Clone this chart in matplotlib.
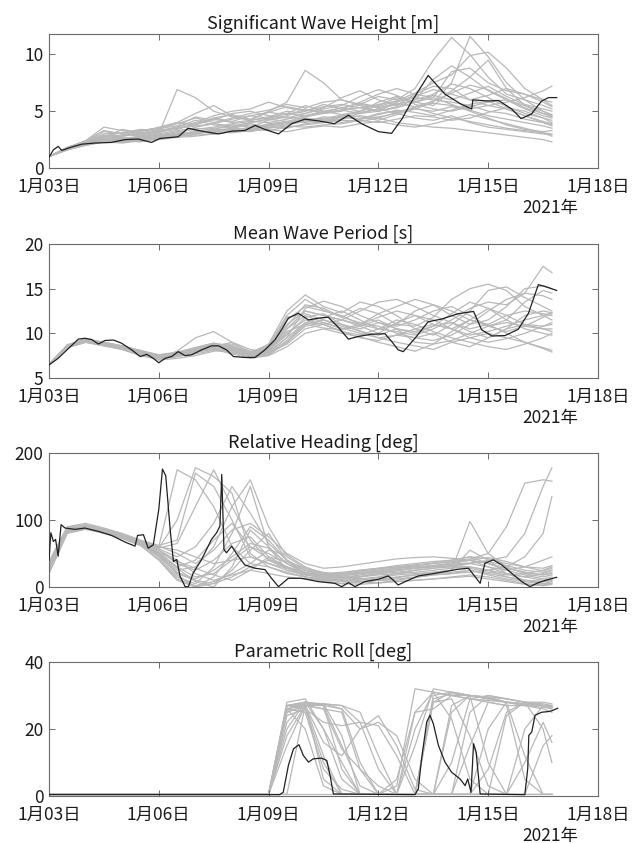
import matplotlib
matplotlib.use('Agg')
import matplotlib.pyplot as plt

plt.rcParams['font.family'] = ['Noto Sans CJK JP', 'DejaVu Sans']

# ---------------- data ----------------
titles = ['Significant Wave Height [m]', 'Mean Wave Period [s]',
          'Relative Heading [deg]', 'Parametric Roll [deg]']
xtick_days = [0, 3, 6, 9, 12, 15]
xtick_labels = ['1月03日', '1月06日', '1月09日', '1月12日', '1月15日', '1月18日']
year_label = '2021年'
ylims = [(0, 11.8), (5, 20), (0, 200), (0, 40)]
yticks = [[0, 5, 10], [5, 10, 15, 20], [0, 100, 200], [0, 20, 40]]

# ensemble time grid (days since Jan 3)
t_ens = [0.0, 0.5, 1.0, 1.5, 2.0, 2.5, 3.0, 3.5, 4.0, 4.5, 5.0, 5.5, 6.0, 6.5,
         7.0, 7.5, 8.0, 8.5, 9.0, 9.5, 10.0, 10.5, 11.0, 11.5, 12.0, 12.5,
         13.0, 13.5, 13.74]

hs_members = [
    [1.0,1.8,2.3,3.2,3.0,2.8,3.1,3.6,4.2,3.8,3.6,4.0,4.3,4.6,5.2,4.8,5.0,5.6,6.3,6.0,7.0,9.5,11.5,10.0,8.0,6.5,6.0,5.5,5.2],
    [1.0,1.7,2.2,2.8,2.6,2.7,3.0,6.9,6.2,5.0,4.5,4.2,4.4,4.8,4.6,5.0,5.3,5.0,5.5,6.2,5.8,5.5,6.8,8.0,9.5,7.0,5.5,4.8,4.5],
    [1.0,1.8,2.4,3.6,3.3,3.0,3.2,3.5,3.8,4.3,4.0,4.2,5.0,5.8,8.6,7.5,6.0,5.5,5.0,5.8,6.2,6.0,5.8,5.5,5.0,4.8,4.3,4.0,3.8],
    [1.0,1.6,2.1,2.4,2.3,2.5,2.7,2.9,3.1,3.3,3.5,3.4,3.8,4.0,4.2,4.0,4.5,4.3,4.8,5.0,5.2,5.8,7.5,11.6,9.8,7.5,6.0,5.0,4.6],
    [1.0,1.7,2.0,2.3,2.4,2.3,2.6,2.8,2.9,3.0,3.2,3.4,3.3,3.6,3.8,4.0,4.2,4.1,4.4,4.0,3.8,3.6,3.5,3.3,3.1,2.9,2.7,2.5,2.3],
    [1.0,1.8,2.3,2.9,2.8,3.2,3.6,4.0,4.8,5.5,4.6,4.2,4.5,5.0,4.8,5.3,6.2,6.8,6.0,5.5,6.5,7.2,7.0,6.0,5.5,5.8,6.2,6.8,7.2],
    [1.0,1.7,2.2,2.6,2.5,2.8,2.9,3.2,3.4,3.6,3.9,4.1,4.0,4.3,4.6,4.9,5.1,5.3,5.6,5.9,6.6,7.5,8.2,9.9,10.2,8.8,7.0,6.0,5.5],
    [1.0,1.8,2.1,2.5,2.6,2.4,2.7,3.0,3.2,3.1,3.5,3.8,3.7,3.9,4.2,4.4,4.0,4.3,4.5,4.8,4.4,4.2,4.6,4.0,3.6,3.4,3.2,3.0,2.9],
    [1.0,1.7,2.3,2.7,2.9,3.3,3.5,3.7,4.5,4.2,4.8,5.0,4.6,4.4,4.8,5.2,5.5,6.3,6.9,6.4,5.6,5.2,5.0,5.4,5.8,6.0,5.5,5.0,4.7],
    [1.0,1.8,2.2,2.5,2.7,2.6,2.8,3.1,3.0,3.3,3.4,3.5,3.9,4.1,4.0,4.3,4.7,4.5,4.2,4.7,5.2,5.0,5.4,5.1,4.6,4.3,4.0,3.7,3.5],
    [1.0,1.6,2.0,2.3,2.2,2.4,2.5,2.7,2.8,3.0,3.3,3.2,3.5,3.7,3.6,3.8,3.9,4.2,4.0,4.3,4.6,4.5,4.2,4.4,4.9,5.3,5.0,4.4,4.0],
    [1.0,1.8,2.3,3.0,3.1,3.4,3.3,3.6,4.0,4.6,5.0,5.2,5.8,5.3,5.0,5.6,5.2,5.8,6.5,7.0,6.5,6.2,8.5,8.8,7.5,6.8,6.5,6.0,5.8],
    [1.0,1.7,2.2,2.6,2.4,2.6,3.0,3.3,3.5,3.4,3.8,3.6,4.2,4.5,4.3,4.1,4.6,4.9,5.2,4.8,5.4,5.7,5.5,5.2,5.5,5.2,4.6,4.0,3.7],
    [1.0,1.7,2.1,2.4,2.5,2.5,2.6,2.8,3.3,3.0,3.2,3.4,3.6,3.5,3.9,4.1,4.3,4.6,4.4,4.9,5.3,4.8,4.4,4.1,3.8,3.5,3.3,3.1,3.0],
    [1.0,1.8,2.4,3.3,3.0,2.9,3.2,3.4,3.9,4.4,4.1,4.6,4.4,4.8,5.5,5.0,4.7,5.0,5.8,6.3,5.8,6.4,6.0,6.6,7.2,6.3,5.6,5.2,5.0],
    [1.0,1.7,2.2,2.5,2.6,2.8,2.9,3.0,3.6,3.9,3.7,4.0,4.3,4.1,4.5,4.8,5.1,4.8,5.2,5.6,6.0,6.5,7.4,7.0,6.2,5.4,4.8,4.4,4.2],
    [1.0,1.7,2.2,2.7,2.8,3.0,3.3,3.5,3.7,3.9,4.3,4.6,4.9,4.7,5.0,5.4,5.6,5.3,5.0,5.4,6.0,7.8,9.0,8.0,6.8,6.0,5.2,4.6,4.4],
    [1.0,1.8,2.1,2.4,2.3,2.5,2.7,2.9,3.0,3.2,3.1,3.3,3.4,3.2,3.5,3.7,3.6,3.9,4.1,3.8,3.6,3.9,4.3,4.7,4.3,3.9,3.5,3.1,2.8],
    [1.0,1.7,2.3,2.8,3.1,3.3,3.5,4.0,3.8,4.4,4.7,4.3,4.9,5.4,5.1,4.9,5.3,5.7,5.4,5.9,6.3,6.9,6.5,6.0,6.4,7.0,6.5,5.8,5.4],
    [1.0,1.6,2.0,2.4,2.3,2.4,2.6,2.8,3.0,3.4,3.3,3.6,3.8,4.0,4.4,4.2,4.5,4.3,4.7,5.1,4.9,4.6,5.1,5.6,5.9,5.2,4.6,4.1,3.9],
    [1.0,1.8,2.2,2.7,3.4,3.1,3.4,3.9,4.4,4.0,4.4,4.8,5.1,5.6,5.3,5.8,6.0,5.6,5.3,5.7,5.4,5.9,6.6,7.3,6.9,6.1,5.3,4.8,4.6],
    [1.0,1.7,2.1,2.3,2.4,2.6,2.8,2.9,3.2,3.5,3.6,3.9,3.6,3.8,4.1,4.5,4.4,4.8,5.0,5.3,5.8,6.2,5.6,5.0,4.4,3.8,3.4,3.2,3.3],
]

tm_members = [
    [6.5,8.6,9.3,9.0,8.5,8.0,7.5,7.8,8.0,8.3,7.8,7.6,8.5,11.5,13.0,12.5,12.0,11.0,10.5,10.2,9.8,10.5,11.5,12.8,13.5,13.2,14.5,17.5,16.8],
    [6.5,8.5,9.1,8.8,8.4,7.9,7.2,8.0,9.5,10.2,9.0,7.8,8.8,12.5,14.3,13.0,12.3,13.5,13.0,12.0,10.5,9.8,11.0,12.5,14.8,15.2,14.0,13.0,12.5],
    [6.5,8.4,9.0,8.7,8.2,7.6,7.0,7.2,7.5,8.0,8.2,7.4,7.6,9.0,11.0,11.5,10.8,10.3,9.5,9.0,8.6,8.2,9.0,9.5,10.0,9.5,9.0,8.4,8.1],
    [6.5,8.7,9.4,9.0,8.6,8.1,7.6,7.9,8.4,8.9,8.4,7.9,8.2,10.5,12.0,11.2,10.5,11.0,12.2,13.0,13.8,13.2,12.0,11.0,11.5,13.0,15.0,15.3,15.0],
    [6.5,8.5,9.2,8.9,8.5,7.8,7.4,7.5,7.8,8.5,9.0,8.2,7.8,8.8,10.5,11.0,11.5,10.8,10.0,11.2,12.0,11.5,10.5,9.8,10.2,10.8,11.5,12.0,12.3],
    [6.5,8.6,9.2,8.8,8.3,7.7,7.3,7.6,8.2,8.7,8.5,7.5,7.9,9.5,12.8,13.6,13.0,12.0,11.2,10.5,10.0,10.8,12.2,13.5,12.8,11.5,10.5,10.0,9.8],
    [6.5,8.5,9.1,8.9,8.4,7.9,7.4,7.7,8.1,8.4,8.0,7.3,8.0,10.0,11.5,11.0,10.2,9.8,10.5,11.5,11.0,10.2,9.5,9.0,8.5,8.2,8.8,9.5,10.0],
    [6.5,8.7,9.3,9.0,8.6,8.0,7.6,7.8,8.3,8.7,8.8,8.0,8.3,11.0,12.5,12.0,11.5,12.5,13.5,13.8,13.0,12.0,11.2,10.5,11.0,12.0,12.5,12.2,12.0],
    [6.5,8.4,9.0,8.6,8.2,7.5,7.1,7.4,7.9,8.2,7.7,7.2,7.5,8.5,10.0,10.5,10.0,9.6,9.0,8.5,8.0,8.8,10.2,11.5,11.0,10.0,9.0,8.3,7.9],
    [6.5,8.6,9.2,8.9,8.4,7.8,7.5,7.7,8.0,8.6,8.3,7.7,8.1,9.8,11.8,12.2,11.0,10.5,11.2,10.8,11.5,12.5,13.0,12.0,10.8,10.2,10.8,11.8,12.2],
    [6.5,8.5,9.1,8.8,8.3,7.8,7.3,7.5,8.1,8.5,8.6,7.6,8.0,10.8,13.2,12.8,11.8,11.2,10.8,10.0,9.5,9.2,9.8,11.0,12.5,13.8,14.5,14.2,13.8],
    [6.5,8.7,9.3,8.9,8.5,7.9,7.5,7.8,8.2,8.8,8.5,7.8,8.4,11.8,12.2,11.5,11.0,10.2,9.8,10.5,10.2,10.8,11.2,10.2,9.5,10.5,11.0,10.5,10.2],
    [6.5,8.5,9.2,8.8,8.4,7.7,7.2,7.6,8.0,8.4,8.2,7.4,7.7,9.2,11.2,11.8,12.5,11.5,10.5,11.0,12.5,13.2,12.5,11.5,10.8,11.5,13.5,14.8,14.5],
    [6.5,8.6,9.1,8.7,8.3,7.8,7.4,7.7,8.2,8.6,8.3,7.6,8.1,10.2,11.0,10.6,10.4,10.8,11.5,10.5,9.0,8.8,9.2,10.0,10.8,11.2,10.8,10.5,10.5],
    [6.5,8.6,9.2,8.9,8.5,7.9,7.5,7.8,8.4,8.9,8.6,7.9,8.6,12.0,13.8,12.6,11.8,12.8,12.2,11.0,10.8,11.8,13.8,15.0,15.5,14.8,13.0,12.0,11.5],
    [6.5,8.4,9.0,8.6,8.2,7.6,7.2,7.4,7.7,8.1,7.9,7.3,7.6,9.0,10.8,11.2,10.6,10.0,9.5,9.8,10.5,11.0,10.5,9.5,9.0,9.4,10.0,10.8,11.0],
    [6.5,8.6,9.2,8.9,8.4,7.9,7.5,7.7,8.1,8.6,8.4,7.7,8.0,10.5,12.5,12.0,11.5,11.0,11.8,12.5,12.0,11.0,10.5,11.5,12.8,12.0,11.0,10.8,11.2],
    [6.5,8.5,9.1,8.8,8.3,7.7,7.3,7.6,7.9,8.3,8.1,7.5,7.8,9.5,11.2,11.0,10.2,9.5,9.2,9.8,9.5,10.0,9.0,8.5,9.5,10.5,12.0,12.5,12.3],
]

hd_members = [
    [35,88,92,86,78,68,55,40,20,10,18,25,20,15,12,10,12,15,18,20,22,25,28,30,25,15,10,8,10],
    [30,85,90,84,76,66,60,175,160,120,60,35,30,22,15,12,14,18,22,25,28,30,35,40,30,20,15,20,25],
    [25,82,88,82,74,64,45,15,5,30,80,150,60,25,18,15,18,22,25,28,30,32,30,28,22,18,20,25,30],
    [38,90,95,88,80,70,62,70,170,150,100,45,35,28,20,18,20,25,28,32,35,38,40,45,42,35,30,28,32],
    [20,80,86,80,72,62,40,10,0,15,50,90,70,40,25,15,10,12,15,20,25,28,32,35,30,25,18,12,15],
    [35,87,91,85,77,67,55,35,25,40,65,75,45,30,20,12,8,10,14,18,20,22,25,98,50,30,20,15,18],
    [28,84,89,83,75,65,50,20,10,5,25,55,80,40,20,10,5,8,12,15,18,20,22,25,20,15,10,5,8],
    [32,86,90,84,76,66,58,100,178,165,140,50,30,20,15,10,12,15,20,22,25,28,30,35,40,45,80,150,178],
    [30,85,89,84,75,66,52,30,15,20,40,60,50,35,25,20,22,25,28,30,32,35,38,42,50,90,155,160,158],
    [25,83,88,82,73,63,48,25,30,60,120,160,90,45,28,18,15,12,10,12,15,18,20,22,25,30,45,80,135],
    [36,88,92,86,78,68,60,55,45,35,40,45,35,25,18,14,16,20,24,28,32,36,40,45,35,25,30,40,45],
    [22,81,87,81,73,62,42,12,2,8,20,35,55,48,30,20,15,12,10,8,10,12,15,18,15,10,5,3,5],
    [33,86,90,85,77,67,57,45,60,95,150,110,65,40,25,18,20,24,27,30,33,35,38,40,35,28,22,18,20],
    [27,84,89,83,75,65,52,38,28,18,10,25,45,38,28,22,18,20,22,26,28,30,32,30,25,20,15,10,12],
    [34,87,91,85,77,67,58,65,120,175,120,70,40,28,20,15,18,22,25,28,30,32,34,36,38,32,25,22,25],
    [24,82,87,81,73,63,46,22,12,25,45,65,58,35,20,12,8,6,10,14,18,22,25,55,40,20,10,8,10],
    [30,85,90,84,76,66,50,28,8,0,30,85,60,35,22,15,10,8,6,10,14,18,20,25,18,12,8,5,6],
    [26,83,88,82,74,64,48,30,40,70,95,60,42,30,22,16,14,16,20,24,28,32,36,40,44,38,30,24,28],
    [37,89,93,87,79,69,61,50,35,55,85,95,75,50,35,28,30,34,38,42,44,45,43,40,35,28,22,18,22],
    [29,84,88,83,75,65,50,18,0,5,15,30,40,30,15,8,5,4,6,8,10,12,14,16,12,8,4,2,4],
]

# roll ensemble time grid (all members sit at ~0.5 deg before Jan 9)
t_roll = [0.0, 6.0, 6.5, 7.0, 7.5, 8.0, 8.5, 9.0, 9.5, 10.0, 10.5, 11.0,
          11.5, 12.0, 12.5, 13.0, 13.5, 13.74]
roll_members = [
    [0.5,0.5,27,28,27,15,3,0.5,0.5,0.5,30,31,30,29,28,27,27,26.5],
    [0.5,0.5,26,27.5,5,0.5,0.5,0.5,0.5,25,31,30,29,28.5,28,27.5,27,26],
    [0.5,0.5,20,28,27.5,27,22,8,0.5,0.5,0.5,10,29,30,29,28,27,27],
    [0.5,0.5,28,29,20,10,0.5,0.5,0.5,0.5,0.5,0.5,0.5,20,28,27,26.5,26],
    [0.5,0.5,15,27,27,26,20,22,18,5,0.5,25,30,29,28,27.5,27,26.5],
    [0.5,0.5,25,27,12,0.5,0.5,0.5,3,32,31,30,30,29,28,27.5,27,26.5],
    [0.5,0.5,27,27.5,27.5,26,10,0.5,0.5,0.5,0.5,0.5,15,28,27,5,0.5,0.5],
    [0.5,0.5,24,26,22,21,22,21,12,0.5,28,31,30,10,0.5,20,27,27],
    [0.5,0.5,26,25,8,2,0.5,0.5,0.5,0.5,0.5,0.5,0.5,0.5,0.5,0.5,15,18],
    [0.5,0.5,27,28,27,8,0.5,0.5,5,25,26,30,29,28,27,27,26,25],
    [0.5,0.5,18,27,26,14,8,3,0.5,0.5,0.5,0.5,0.5,8,25,28,27.5,27],
    [0.5,0.5,26,27,27.5,27,25,12,0.5,0.5,28,29,18,3,0.5,0.5,0.5,0.5],
    [0.5,0.5,22,28,20,5,0.5,0.5,0.5,0.5,0.5,27,30,29.5,28,12,0.5,0.5],
    [0.5,0.5,27,26,10,0.5,0.5,0.5,0.5,15,32,31,30,29.5,29,28,20,10],
    [0.5,0.5,0.5,27,27.5,18,0.5,0.5,0.5,0.5,0.5,0.5,0.5,0.5,24,28,27,26.5],
    [0.5,0.5,25,27,16,12,20,24,15,2,0.5,0.5,25,30,29,28,28,27.5],
    [0.5,0.5,27,27,26,25,8,0.5,0.5,20,31,23,5,0.5,0.5,10,22,16],
    [0.5,0.5,26,20,3,0.5,0.5,0.5,0.5,0.5,29,30.5,30,29.5,28,27.5,27,26.5],
    [0.5,0.5,0.5,0.5,0.5,0.5,0.5,0.5,0.5,0.5,0.5,0.5,0.5,0.5,0.5,0.5,0.5,0.5],
]

# deterministic (black) lines
hs_t = [0,0.12,0.25,0.35,0.62,0.9,1.26,1.7,2.08,2.44,2.8,3.03,3.53,3.8,4.17,4.63,5.0,5.35,5.63,5.9,
        6.27,6.63,6.99,7.36,7.8,8.18,8.54,9.0,9.36,9.64,9.9,10.36,10.82,11.27,11.55,11.58,12.0,12.28,
        12.64,12.9,13.18,13.46,13.65,13.87]
hs_v = [0.95,1.6,1.9,1.55,1.85,2.1,2.2,2.25,2.5,2.55,2.25,2.6,2.75,3.5,3.25,3.0,3.25,3.3,3.75,3.4,
        3.0,3.9,4.3,4.15,3.9,4.65,3.9,3.2,3.05,4.3,5.8,8.15,6.5,5.6,5.2,6.0,5.9,5.95,5.2,4.35,4.75,
        5.9,6.2,6.2]

tm_t = [0,0.25,0.53,0.8,0.98,1.17,1.35,1.53,1.76,1.98,2.26,2.49,2.67,2.85,3.0,3.17,3.35,3.53,3.72,
        3.9,4.17,4.44,4.63,4.85,5.04,5.35,5.63,5.9,6.17,6.36,6.54,6.81,7.09,7.36,7.63,7.9,8.18,8.45,
        8.81,9.18,9.36,9.54,9.68,10.0,10.36,10.73,11.18,11.6,11.82,12.1,12.46,12.82,13.1,13.37,13.55,13.87]
tm_v = [6.46,7.2,8.3,9.35,9.45,9.3,8.8,9.2,9.25,8.9,8.15,7.4,7.65,7.2,6.7,7.2,7.4,7.95,7.5,7.6,
        8.15,8.6,8.6,8.15,7.4,7.3,7.3,8.15,9.25,10.45,11.7,12.25,11.5,11.7,11.8,10.7,9.35,9.65,9.9,
        9.95,9.1,8.15,7.95,9.45,11.3,11.6,12.2,12.45,10.4,9.7,9.75,10.45,12.25,15.45,15.25,14.8]

hd_t = [0,0.05,0.12,0.18,0.25,0.33,0.44,0.71,0.98,1.35,1.71,2.08,2.35,2.42,2.58,2.71,2.85,3.0,3.1,
        3.19,3.31,3.4,3.49,3.58,3.72,3.81,3.94,4.17,4.44,4.58,4.67,4.72,4.78,4.85,4.99,5.17,5.35,5.63,
        5.9,6.08,6.27,6.54,6.9,7.36,7.81,8.0,8.18,8.36,8.63,9.0,9.27,9.4,9.54,9.73,10.09,10.45,10.82,
        11.18,11.46,11.64,11.78,11.91,12.14,12.37,12.64,12.92,13.14,13.37,13.6,13.87]
hd_v = [40,81,68,71,46,93,88,86,88,83,77,67,61,77,78,58,63,116,176,166,86,38,41,16,0.5,0.5,21,41,
        71,81,91,168,56,51,61,46,33,28,26,13,0.5,13,13,8,5.5,0.5,6.5,0.5,8,11.5,16.5,10.5,3,8,16.5,
        19.5,23,26.5,28,15.5,5.5,35.5,40.5,33,20.5,8,0.5,6.5,10.5,14.5]

roll_t = [0,6.3,6.4,6.54,6.68,6.83,6.95,7.09,7.22,7.45,7.59,7.68,7.77,10.0,10.09,10.18,10.32,10.41,
          10.5,10.64,10.82,11.0,11.23,11.37,11.44,11.53,11.6,11.67,11.78,13.0,13.08,13.11,13.19,
          13.28,13.46,13.64,13.73,13.9]
roll_v = [0.4,0.4,1.1,9.1,14.1,15.3,12.1,10.1,11.1,11.3,10.6,6.1,0.6,0.4,2.1,11.1,22.1,24.1,21.6,
          15.1,10.1,7.1,5.1,3.1,5.1,1.1,15.6,13.1,0.6,0.4,8.1,18.1,19.1,24.1,25.0,25.2,25.4,26.2]

# ---------------- plotting ----------------
W, H = 641, 843
fig = plt.figure(figsize=(W / 100, H / 100), dpi=100)

panels = [
    (t_ens, hs_members, hs_t, hs_v),
    (t_ens, tm_members, tm_t, tm_v),
    (t_ens, hd_members, hd_t, hd_v),
    (t_roll, roll_members, roll_t, roll_v),
]
bottoms_px = [168, 378, 587, 796]
left_px, right_px, height_px = 49, 598, 134

gray = '#b8b8b8'
axcol = '#6a6a6a'
txtcol = '#1a1a1a'

for i, (te, members, bt, bv) in enumerate(panels):
    ax = fig.add_axes([left_px / W, 1 - bottoms_px[i] / H,
                       (right_px - left_px) / W, height_px / H])
    for m in members:
        ax.plot(te, m, color=gray, lw=0.9, zorder=1)
    ax.plot(bt, bv, color='#202020', lw=0.9, zorder=3)
    ax.set_xlim(0, 15)
    ax.set_ylim(*ylims[i])
    ax.set_xticks(xtick_days)
    ax.set_xticklabels(xtick_labels)
    ax.set_yticks(yticks[i])
    ax.tick_params(direction='in', top=True, right=True, length=4, width=0.7,
                   color=axcol, labelcolor=txtcol, labelsize=12.5)
    ax.tick_params(axis='x', pad=7)
    ax.tick_params(axis='y', pad=4)
    for s in ax.spines.values():
        s.set_color(axcol)
        s.set_linewidth(0.8)
    ax.set_title(titles[i], fontsize=13, color=txtcol, pad=4)
    ax.text(0.913, -0.295, year_label, transform=ax.transAxes, ha='center',
            va='center', fontsize=12.5, color=txtcol)

fig.savefig('out.png', dpi=100)
